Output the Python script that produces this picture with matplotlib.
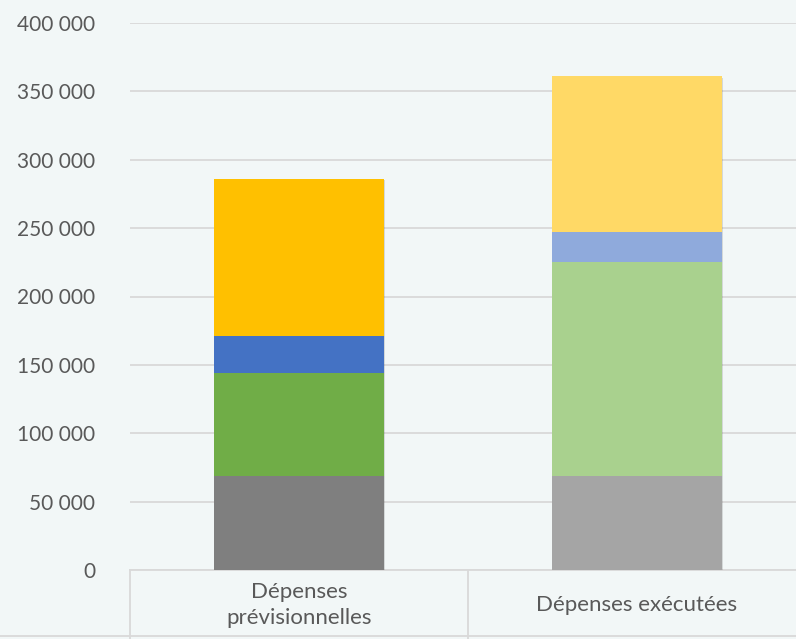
import matplotlib
matplotlib.use("Agg")
import matplotlib.pyplot as plt
import matplotlib.patheffects as pe
from matplotlib.lines import Line2D
from matplotlib.transforms import blended_transform_factory
import numpy as np

# data
categories = ["Dépenses\nprévisionnelles", "Dépenses exécutées"]
gris = [69000, 69000]
vert = [75000, 156000]
bleu = [27000, 22000]
jaune = [115000, 114000]

colors_prev = ["#7F7F7F", "#70AD47", "#4472C4", "#FFC000"]
colors_exec = ["#A5A5A5", "#A9D18E", "#8FAADC", "#FFD966"]

yticks = [0, 50000, 100000, 150000, 200000, 250000, 300000, 350000, 400000]

bg = "#F2F7F7"
txt = "#595959"
line_c = "#D9D9D9"

plt.rcParams["font.family"] = ["Lato", "DejaVu Sans"]

fig = plt.figure(figsize=(7.96, 6.39), dpi=100, facecolor=bg)
W, H = 796, 639
ax = fig.add_axes([130 / W, (H - 570) / H, 676 / W, 547 / H])
ax.set_facecolor(bg)

x = np.arange(len(categories))
series = [gris, vert, bleu, jaune]
totals = np.sum(series, axis=0)

# soft shadow behind each whole bar
ax.bar(x, totals, width=0.503, color=bg, zorder=2,
       path_effects=[pe.SimplePatchShadow(offset=(1, -1), shadow_rgbFace="#000000", alpha=0.12),
                     pe.Normal()])

bottom = np.zeros(len(categories))
for k, vals in enumerate(series):
    cols = [colors_prev[k], colors_exec[k]]
    ax.bar(x, vals, width=0.503, bottom=bottom, color=cols, zorder=3)
    bottom += np.array(vals)

ax.set_xlim(-0.5, 1.5)
ax.set_ylim(0, 400000)
ax.set_yticks(yticks)
ax.set_yticklabels([f"{v:,}".replace(",", " ") for v in yticks])
ax.tick_params(axis="y", length=0, pad=25, labelsize=15, labelcolor=txt)
ax.tick_params(axis="x", length=0, labelbottom=False)
ax.grid(axis="y", color=line_c, linewidth=1.3, zorder=0)
ax.set_axisbelow(True)
for s in ax.spines.values():
    s.set_visible(False)

# category table under the bars
ax.axhline(0, color=line_c, linewidth=1.3, zorder=1, clip_on=False)
tr = blended_transform_factory(ax.transData, ax.transAxes)
for xv in [-0.5, 0.5]:
    ax.plot([xv, xv], [0, -0.2], color=line_c, linewidth=1.3, transform=tr, clip_on=False)
fig.add_artist(Line2D([0, 1], [(H - 636) / H] * 2, color=line_c, linewidth=1.3))

for i, lab in enumerate(categories):
    ax.text(x[i], -0.064, lab, transform=tr, ha="center", va="center",
            fontsize=16, color=txt, linespacing=1.35)

fig.savefig("out.png", dpi=100, facecolor=bg)
